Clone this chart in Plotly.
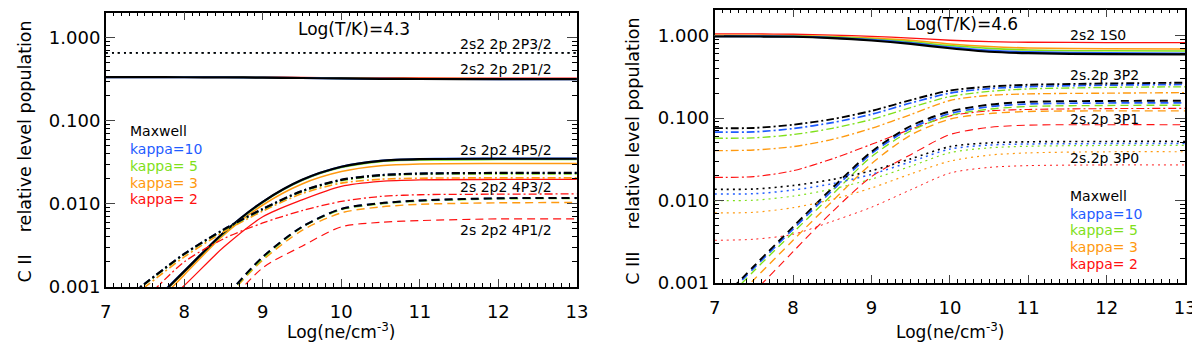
import math
import plotly.graph_objects as go

# log10(ne/cm^-3) grid shared by every curve
log_ne = [7, 7.5, 8, 8.5, 9, 9.5, 10, 10.5, 11, 12, 13]

kappas = ["Maxwell", "kappa=10", "kappa= 5", "kappa= 3", "kappa= 2"]

# ---- C II, Log(T/K)=4.3 ----
cii_2p32 = {
    "Maxwell":  [0.66, 0.66, 0.66, 0.66, 0.66, 0.66, 0.66, 0.66, 0.66, 0.66, 0.66],
    "kappa=10": [0.66, 0.66, 0.66, 0.66, 0.66, 0.66, 0.66, 0.66, 0.66, 0.66, 0.66],
    "kappa= 5": [0.66, 0.66, 0.66, 0.66, 0.66, 0.66, 0.66, 0.66, 0.66, 0.66, 0.66],
    "kappa= 3": [0.658, 0.658, 0.658, 0.658, 0.658, 0.658, 0.658, 0.658, 0.658, 0.658, 0.658],
    "kappa= 2": [0.655, 0.655, 0.655, 0.655, 0.655, 0.655, 0.655, 0.655, 0.655, 0.655, 0.655],
}
cii_2p12 = {
    "Maxwell":  [0.336, 0.336, 0.335, 0.334, 0.332, 0.328, 0.324, 0.321, 0.319, 0.318, 0.318],
    "kappa=10": [0.336, 0.336, 0.335, 0.334, 0.332, 0.328, 0.324, 0.321, 0.319, 0.318, 0.318],
    "kappa= 5": [0.337, 0.337, 0.336, 0.335, 0.333, 0.329, 0.325, 0.322, 0.32, 0.319, 0.319],
    "kappa= 3": [0.337, 0.337, 0.336, 0.335, 0.334, 0.331, 0.327, 0.324, 0.323, 0.322, 0.322],
    "kappa= 2": [0.338, 0.338, 0.338, 0.337, 0.336, 0.334, 0.331, 0.329, 0.328, 0.327, 0.327],
}
cii_4p52 = {
    "Maxwell":  [0.00018, 0.00052, 0.00154, 0.0045, 0.0106, 0.0195, 0.028, 0.033, 0.0346, 0.035, 0.035],
    "kappa=10": [0.00018, 0.00053, 0.00156, 0.0045, 0.0106, 0.0195, 0.0281, 0.0331, 0.0348, 0.0352, 0.0352],
    "kappa= 5": [0.00018, 0.00052, 0.00152, 0.0044, 0.0104, 0.0191, 0.0274, 0.0323, 0.0338, 0.0342, 0.0342],
    "kappa= 3": [0.00016, 0.00046, 0.0014, 0.0042, 0.0097, 0.0174, 0.0245, 0.0288, 0.0303, 0.0307, 0.0307],
    "kappa= 2": [0.00014, 0.0004, 0.00104, 0.003, 0.007, 0.0112, 0.0163, 0.0187, 0.0195, 0.0197, 0.0197],
}
cii_4p32 = {
    "Maxwell":  [0.00048, 0.0011, 0.0025, 0.0049, 0.0087, 0.0143, 0.0195, 0.0222, 0.0232, 0.0236, 0.0236],
    "kappa=10": [0.00048, 0.0011, 0.0025, 0.0049, 0.0087, 0.0143, 0.0195, 0.0222, 0.0232, 0.0236, 0.0236],
    "kappa= 5": [0.00047, 0.00108, 0.00245, 0.0048, 0.0085, 0.014, 0.019, 0.0217, 0.0227, 0.023, 0.023],
    "kappa= 3": [0.00044, 0.001, 0.0023, 0.0046, 0.0082, 0.0133, 0.0178, 0.0198, 0.0204, 0.0206, 0.0206],
    "kappa= 2": [0.00027, 0.00072, 0.002, 0.0038, 0.0059, 0.0083, 0.0107, 0.0123, 0.0129, 0.0131, 0.0132],
}
cii_4p12 = {
    "Maxwell":  [0.00002, 0.00007, 0.00022, 0.00072, 0.0023, 0.0053, 0.0087, 0.0102, 0.011, 0.0117, 0.0118],
    "kappa=10": [0.00002, 0.00007, 0.00022, 0.00072, 0.0023, 0.0053, 0.0087, 0.0102, 0.011, 0.0117, 0.0118],
    "kappa= 5": [0.00002, 0.00007, 0.00022, 0.0007, 0.0022, 0.0052, 0.0085, 0.01, 0.0108, 0.0115, 0.0116],
    "kappa= 3": [0.00002, 0.00006, 0.0002, 0.00068, 0.0021, 0.0048, 0.0078, 0.0092, 0.0099, 0.0103, 0.0104],
    "kappa= 2": [0.000015, 0.00005, 0.00017, 0.00055, 0.0017, 0.0031, 0.0053, 0.006, 0.0063, 0.0066, 0.0066],
}

# ---- C III, Log(T/K)=4.6 ----
ciii_1s0 = {
    "Maxwell":  [0.973, 0.972, 0.965, 0.93, 0.87, 0.79, 0.70, 0.635, 0.61, 0.595, 0.59],
    "kappa=10": [0.98, 0.978, 0.972, 0.94, 0.885, 0.81, 0.72, 0.658, 0.63, 0.612, 0.607],
    "kappa= 5": [0.99, 0.99, 0.982, 0.955, 0.905, 0.84, 0.755, 0.698, 0.668, 0.652, 0.648],
    "kappa= 3": [1.005, 1.003, 0.997, 0.972, 0.93, 0.875, 0.79, 0.735, 0.705, 0.69, 0.685],
    "kappa= 2": [1.045, 1.043, 1.035, 1.01, 0.975, 0.93, 0.875, 0.843, 0.828, 0.821, 0.82],
}
ciii_3p2 = {
    "Maxwell":  [0.0755, 0.0758, 0.083, 0.097, 0.122, 0.165, 0.215, 0.24, 0.253, 0.262, 0.268],
    "kappa=10": [0.0676, 0.068, 0.0745, 0.088, 0.111, 0.152, 0.2, 0.227, 0.24, 0.25, 0.255],
    "kappa= 5": [0.057, 0.0575, 0.063, 0.075, 0.096, 0.134, 0.182, 0.21, 0.225, 0.235, 0.239],
    "kappa= 3": [0.0402, 0.041, 0.045, 0.055, 0.075, 0.11, 0.163, 0.188, 0.196, 0.2, 0.203],
    "kappa= 2": [0.0191, 0.0195, 0.023, 0.032, 0.048, 0.073, 0.106, 0.122, 0.127, 0.13, 0.131],
}
ciii_3p1 = {
    "Maxwell":  [0.00052, 0.0016, 0.0048, 0.0142, 0.039, 0.08, 0.12, 0.145, 0.157, 0.161, 0.162],
    "kappa=10": [0.0005, 0.00152, 0.0045, 0.0132, 0.037, 0.075, 0.113, 0.137, 0.148, 0.152, 0.153],
    "kappa= 5": [0.00045, 0.0014, 0.0041, 0.0118, 0.034, 0.07, 0.107, 0.128, 0.138, 0.142, 0.143],
    "kappa= 3": [0.00037, 0.0011, 0.0033, 0.0098, 0.028, 0.062, 0.097, 0.113, 0.12, 0.122, 0.122],
    "kappa= 2": [0.00026, 0.00078, 0.0024, 0.0073, 0.0195, 0.036, 0.063, 0.077, 0.082, 0.083, 0.083],
}
ciii_3p0 = {
    "Maxwell":  [0.0137, 0.0138, 0.0152, 0.018, 0.023, 0.032, 0.045, 0.05, 0.0515, 0.052, 0.052],
    "kappa=10": [0.012, 0.0121, 0.0134, 0.016, 0.0208, 0.0295, 0.042, 0.047, 0.0485, 0.049, 0.049],
    "kappa= 5": [0.01, 0.0101, 0.0113, 0.0138, 0.0182, 0.026, 0.038, 0.0435, 0.0455, 0.0465, 0.0465],
    "kappa= 3": [0.0071, 0.0072, 0.0082, 0.0103, 0.0142, 0.021, 0.03, 0.0355, 0.0378, 0.039, 0.039],
    "kappa= 2": [0.0033, 0.0034, 0.0039, 0.0056, 0.0083, 0.0135, 0.0215, 0.0252, 0.0265, 0.027, 0.027],
}

cii_labels = ["2s2 2p 2P3/2", "2s2 2p 2P1/2", "2s 2p2 4P5/2", "2s 2p2 4P3/2", "2s 2p2 4P1/2"]
ciii_labels = ["2s2 1S0", "2s.2p 3P2", "2s.2p 3P1", "2s.2p 3P0"]
temp_titles = ["Log(T/K)=4.3", "Log(T/K)=4.6"]
ion_titles = ["C II    relative level population", "C III    relative level population"]
xtick_vals = [7, 8, 9, 10, 11, 12, 13]
ytick_vals = [0.001, 0.01, 0.1, 1.0]
ytick_text = ["0.001", "0.010", "0.100", "1.000"]

colors = {"Maxwell": "black", "kappa=10": "#1f5cff", "kappa= 5": "#7fe01a",
          "kappa= 3": "#ff9a10", "kappa= 2": "#ff1010"}
widths = {"Maxwell": 2.2, "kappa=10": 2.0, "kappa= 5": 1.6, "kappa= 3": 1.6, "kappa= 2": 1.3}
DOT = "2px,4px"
DASH = "8px,5px"
DASHDOT = "8px,3px,2px,3px"
FONT = "DejaVu Sans"

fig = go.Figure()


def add_level(level, dash, xa, ya, scale=1.0):
    # draw kappa=2 first so Maxwell ends up on top
    for k in reversed(kappas):
        fig.add_trace(go.Scatter(
            x=log_ne, y=level[k], mode="lines", xaxis=xa, yaxis=ya,
            line=dict(color=colors[k], width=widths[k] * scale, dash=dash,
                      shape="spline", smoothing=0.8),
            showlegend=False, hoverinfo="skip"))


add_level(cii_2p32, DOT, "x", "y", 0.8)
add_level(cii_2p12, "solid", "x", "y")
add_level(cii_4p52, "solid", "x", "y")
add_level(cii_4p32, DASHDOT, "x", "y")
add_level(cii_4p12, DASH, "x", "y", 0.9)

add_level(ciii_1s0, "solid", "x2", "y2")
add_level(ciii_3p2, DASHDOT, "x2", "y2", 0.85)
add_level(ciii_3p1, DASH, "x2", "y2", 0.85)
add_level(ciii_3p0, DOT, "x2", "y2", 0.75)

annots = []


def text(x, y, s, xref, yref, color="black", size=14, xanchor="left"):
    annots.append(dict(x=x, y=math.log10(y), xref=xref, yref=yref, text=s,
                       showarrow=False, xanchor=xanchor, yanchor="middle",
                       font=dict(family=FONT, size=size, color=color)))


# panel titles
text(10.16, 1.27, temp_titles[0], "x", "y", size=17, xanchor="center")
text(10.15, 1.37, temp_titles[1], "x2", "y2", size=17, xanchor="center")

# level labels
for lab, yv in zip(cii_labels, [0.84, 0.42, 0.044, 0.0158, 0.0048]):
    text(11.48, yv, lab, "x", "y")
for lab, yv in zip(ciii_labels, [1.0, 0.33, 0.097, 0.033]):
    text(11.51, yv, lab, "x2", "y2")

# colour keys
for k, yv in zip(kappas, [0.0745, 0.046, 0.029, 0.018, 0.0114]):
    text(7.29, yv, k, "x", "y", color=colors[k])
for k, yv in zip(kappas, [0.0112, 0.00695, 0.00435, 0.0027, 0.00169]):
    text(11.51, yv, k, "x2", "y2", color=colors[k])

# axis titles
for xc, t in zip([11 / 1200, 628 / 1200], ion_titles):
    annots.append(dict(x=xc, y=1 - 148 / 345, xref="paper", yref="paper", text=t,
                       textangle=-90, showarrow=False, xanchor="center", yanchor="middle",
                       font=dict(family=FONT, size=17.5, color="black")))
for xc in [332 / 1200, 949 / 1200]:
    annots.append(dict(x=xc, y=1 - 333 / 345, xref="paper", yref="paper",
                       text="Log(ne/cm<sup>-3</sup>)", showarrow=False,
                       xanchor="center", yanchor="middle",
                       font=dict(family=FONT, size=17, color="black")))

xcommon = dict(range=[7, 13], tickvals=xtick_vals, ticks="inside", ticklen=8,
               tickwidth=1.2, showline=True, linecolor="black", linewidth=1.5,
               mirror="allticks", showgrid=False, zeroline=False, ticklabelstandoff=8,
               tickfont=dict(family=FONT, size=18, color="black"),
               minor=dict(dtick=0.1, ticks="inside", ticklen=4, tickcolor="black",
                          showgrid=False))
ycommon = dict(type="log", tickvals=ytick_vals, ticktext=ytick_text, ticks="inside",
               ticklen=10, tickwidth=1.2, showline=True, linecolor="black",
               linewidth=1.5, mirror="allticks", showgrid=False, zeroline=False,
               tickfont=dict(family=FONT, size=18, color="black"),
               minor=dict(dtick="D1", ticks="inside", ticklen=5, tickcolor="black",
                          showgrid=False))

fig.update_layout(
    width=1200, height=345,
    margin=dict(l=0, r=0, t=0, b=0),
    paper_bgcolor="white", plot_bgcolor="white",
    xaxis=dict(domain=[93 / 1200, 571 / 1200], anchor="y", **xcommon),
    yaxis=dict(domain=[1 - 287.3 / 345, 1 - 4.7 / 345], range=[-3, 0.304],
               anchor="x", **ycommon),
    xaxis2=dict(domain=[710.7 / 1200, 1188 / 1200], anchor="y2", **xcommon),
    yaxis2=dict(domain=[1 - 283.3 / 345, 1 - 1.7 / 345], range=[-3, 0.313],
                anchor="x2", **ycommon),
    annotations=annots,
)

fig.write_html("out.html")
